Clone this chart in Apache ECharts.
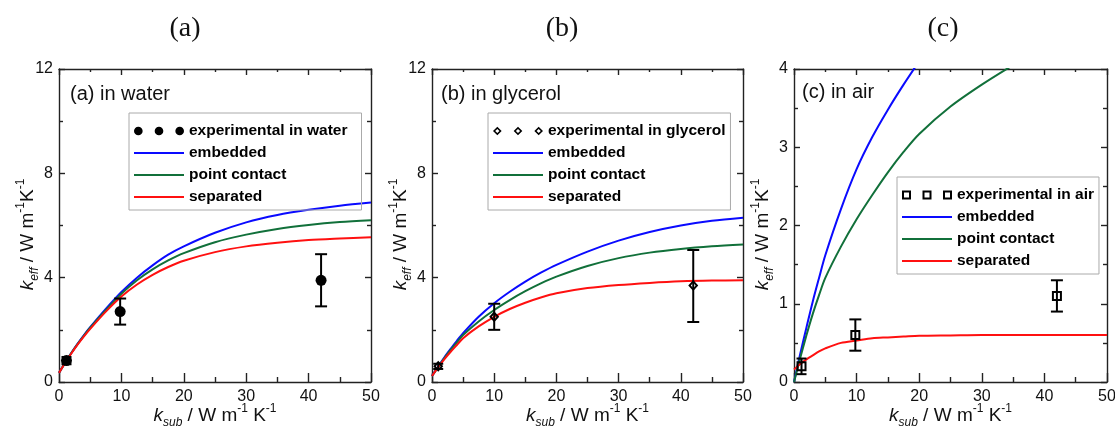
<!DOCTYPE html>
<html><head><meta charset="utf-8">
<script src="https://cdn.jsdelivr.net/npm/echarts@6/dist/echarts.min.js"></script>
<style>html,body{margin:0;padding:0;background:#fff}#c{width:1115px;height:427px}</style>
</head><body><div id="c"></div>
<script>
// ---------- data ----------
const kSub = [0,1,2,3,4,5,7.5,10,12.5,15,17.5,20,25,30,35,40,45,50];
const xTicks = [0,10,20,30,40,50];

const waterEmbedded  = [0.35,0.75,1.12,1.47,1.80,2.10,2.80,3.45,4.00,4.47,4.88,5.20,5.72,6.12,6.40,6.60,6.76,6.88];
const waterPoint     = [0.35,0.75,1.12,1.46,1.78,2.08,2.75,3.38,3.90,4.32,4.66,4.94,5.36,5.65,5.87,6.02,6.13,6.20];
const waterSeparated = [0.35,0.74,1.10,1.44,1.75,2.04,2.70,3.28,3.74,4.11,4.41,4.65,4.98,5.20,5.34,5.44,5.50,5.55];

const glyEmbedded  = [0.23,0.60,0.95,1.27,1.58,1.87,2.50,3.02,3.46,3.85,4.19,4.49,5.00,5.42,5.75,6.00,6.18,6.30];
const glyPoint     = [0.23,0.58,0.92,1.23,1.52,1.80,2.32,2.76,3.14,3.48,3.78,4.04,4.45,4.75,4.96,5.10,5.20,5.27];
const glySeparated = [0.23,0.57,0.88,1.16,1.42,1.68,2.13,2.50,2.80,3.04,3.24,3.40,3.60,3.72,3.80,3.86,3.89,3.90];

const airEmbedded  = [0,0.36,0.70,1.03,1.33,1.62,2.21,2.72,3.13,3.48,3.80,4.10];
const airPoint     = [0,0.31,0.60,0.87,1.11,1.33,1.73,2.08,2.39,2.68,2.94,3.17,3.52,3.80,4.05];
const airSeparated = [0.16,0.23,0.29,0.34,0.39,0.43,0.50,0.53,0.56,0.57,0.58,0.59,0.595,0.60,0.60,0.60,0.60,0.60];

const waterExpX  = [1.2, 9.8, 42];
const waterExpY  = [0.82, 2.7, 3.9];
const waterExpLo = [0.68, 2.2, 2.9];
const waterExpHi = [0.96, 3.2, 4.9];

const glyExpX  = [1.0, 10, 42];
const glyExpY  = [0.6, 2.5, 3.7];
const glyExpLo = [0.5, 2.0, 2.3];
const glyExpHi = [0.7, 3.0, 5.06];

const airExpX  = [1.2, 9.8, 42];
const airExpY  = [0.2, 0.6, 1.1];
const airExpLo = [0.1, 0.4, 0.9];
const airExpHi = [0.3, 0.8, 1.3];

const panelTitles = ['(a)', '(b)', '(c)'];
const panelLabels = ['(a) in water', '(b) in glycerol', '(c) in air'];
const expNames = ['experimental in water', 'experimental in glycerol', 'experimental in air'];
const modelNames = ['embedded', 'point contact', 'separated'];

// ---------- style ----------
const F = 'Liberation Sans, Arial, sans-serif';
const AX = '#222';
const COLORS = ['#0a0aff', '#11703a', '#ff1010'];
const grids = [
  {left: 59, top: 69, width: 312, height: 313, outerBoundsMode: 'none', containLabel: false},
  {left: 432, top: 69, width: 311, height: 313, outerBoundsMode: 'none', containLabel: false},
  {left: 794, top: 69, width: 313, height: 313, outerBoundsMode: 'none', containLabel: false}
];
const yCfg = [{max: 12, interval: 4}, {max: 12, interval: 4}, {max: 4, interval: 1}];

const rich = {
  n: {fontSize: 19, fontFamily: F, color: '#111', lineHeight: 26},
  i: {fontSize: 19, fontFamily: F, fontStyle: 'italic', color: '#111', lineHeight: 26},
  sub: {fontSize: 12, fontFamily: F, fontStyle: 'italic', color: '#111', lineHeight: 12, verticalAlign: 'bottom'},
  sup: {fontSize: 12, fontFamily: F, color: '#111', lineHeight: 12, verticalAlign: 'top'}
};
const xName = '{i|k}{sub|sub}{n| / W m}{sup|-1}{n| K}{sup|-1}';
const yName = '{i|k}{sub|eff}{n| / W m}{sup|-1}{n|K}{sup|-1}';

const lineIcon = 'path://M0,0H50V2.2H0Z';
const circleTriple = 'path://M0,4.5a4.5,4.5 0 1,0 9,0a4.5,4.5 0 1,0 -9,0ZM21.5,4.5a4.5,4.5 0 1,0 9,0a4.5,4.5 0 1,0 -9,0ZM43,4.5a4.5,4.5 0 1,0 9,0a4.5,4.5 0 1,0 -9,0Z';
const diamondRing = 'path://M5,0L10,5L5,10L0,5ZM5,2.6L2.6,5L5,7.4L7.4,5Z';
const diamondTriple = 'path://M4.5,0L9,4.5L4.5,9L0,4.5ZM4.5,2.3L2.3,4.5L4.5,6.7L6.7,4.5Z M26,0L30.5,4.5L26,9L21.5,4.5ZM26,2.3L23.8,4.5L26,6.7L28.2,4.5Z M47.5,0L52,4.5L47.5,9L43,4.5ZM47.5,2.3L45.3,4.5L47.5,6.7L49.7,4.5Z';
const squareRing = 'path://M0,0H10V10H0ZM2,2V8H8V2Z';
const squareTriple = 'path://M0,0H9V9H0ZM2,2V7H7V2Z M20.5,0H29.5V9H20.5ZM22.5,2V7H27.5V2Z M41,0H50V9H41ZM43,2V7H48V2Z';

const lineSt = {color: AX, width: 1.4};
const xAxes = [], yAxes = [];
grids.forEach((g, gi) => {
  const xb = {gridIndex: gi, type: 'value', min: 0, max: 50, interval: 10, splitLine: {show: false},
    axisLine: {show: true, onZero: false, lineStyle: lineSt}};
  xAxes.push(Object.assign({}, xb, {position: 'bottom',
    axisTick: {inside: true, length: 9, lineStyle: lineSt},
    minorTick: {show: true, splitNumber: 2, length: 5, lineStyle: lineSt},
    axisLabel: {margin: 7, color: '#111', fontSize: 16, fontFamily: F,
      formatter: v => xTicks.includes(v) ? String(v) : ''},
    name: xName, nameLocation: 'middle', nameGap: 21, nameMoveOverlap: false, nameTextStyle: {rich: rich}}));
  xAxes.push(Object.assign({}, xb, {position: 'top',
    axisTick: {inside: true, length: 6, lineStyle: lineSt},
    minorTick: {show: true, splitNumber: 2, length: 3, lineStyle: lineSt},
    axisLabel: {show: false}}));
  const yb = {gridIndex: gi, type: 'value', min: 0, max: yCfg[gi].max, interval: yCfg[gi].interval,
    splitLine: {show: false}, axisLine: {show: true, onZero: false, lineStyle: lineSt}};
  yAxes.push(Object.assign({}, yb, {position: 'left',
    axisTick: {inside: true, length: 6, lineStyle: lineSt},
    minorTick: {show: true, splitNumber: 2, length: 4, lineStyle: lineSt},
    axisLabel: {margin: 6, color: '#111', fontSize: 16, fontFamily: F},
    name: yName, nameLocation: 'middle', nameGap: 18, nameRotate: 90, nameMoveOverlap: false,
    nameTextStyle: {rich: rich, padding: [0, 18, 0, 0]}}));
  yAxes.push(Object.assign({}, yb, {position: 'right',
    axisTick: {inside: true, length: 6, lineStyle: lineSt},
    minorTick: {show: true, splitNumber: 2, length: 4, lineStyle: lineSt},
    axisLabel: {show: false}}));
});

const modelSets = [
  [waterEmbedded, waterPoint, waterSeparated],
  [glyEmbedded, glyPoint, glySeparated],
  [airEmbedded, airPoint, airSeparated]
];
const expSets = [
  [waterExpX, waterExpY, waterExpLo, waterExpHi],
  [glyExpX, glyExpY, glyExpLo, glyExpHi],
  [airExpX, airExpY, airExpLo, airExpHi]
];
const expSymbols = [
  {symbol: 'circle', size: 11},
  {symbol: diamondRing, size: [10, 11]},
  {symbol: squareRing, size: 10}
];
const legendIcons = [circleTriple, diamondTriple, squareTriple];

const series = [];
grids.forEach((g, gi) => {
  const ax = gi * 2;
  modelSets[gi].forEach((arr, mi) => {
    series.push({type: 'line', name: modelNames[mi], xAxisIndex: ax, yAxisIndex: ax,
      data: arr.map((v, i) => [kSub[i], v]), smooth: 0.3,
      symbol: 'none', clip: true, z: 3 + mi,
      lineStyle: {color: COLORS[mi], width: 2}, itemStyle: {color: COLORS[mi]}});
  });
  const [ex, ey, elo, ehi] = expSets[gi];
  series.push({type: 'custom', name: 'err' + gi, xAxisIndex: ax, yAxisIndex: ax, z: 8,
    data: ex.map((v, i) => [v, elo[i], ehi[i]]), encode: {x: 0, y: [1, 2]},
    renderItem: (params, api) => {
      const x = api.value(0);
      const a = api.coord([x, api.value(1)]);
      const b = api.coord([x, api.value(2)]);
      const hw = params.dataIndex === 0 ? 5 : 6;
      const st = {stroke: '#000', lineWidth: 2};
      return {type: 'group', children: [
        {type: 'line', shape: {x1: a[0], y1: a[1], x2: b[0], y2: b[1]}, style: st},
        {type: 'line', shape: {x1: a[0] - hw, y1: a[1], x2: a[0] + hw, y2: a[1]}, style: st},
        {type: 'line', shape: {x1: b[0] - hw, y1: b[1], x2: b[0] + hw, y2: b[1]}, style: st}
      ]};
    }});
  series.push({type: 'scatter', name: expNames[gi], xAxisIndex: ax, yAxisIndex: ax, z: 9,
    symbol: expSymbols[gi].symbol, symbolSize: expSymbols[gi].size,
    itemStyle: {color: '#000', opacity: 1},
    data: ex.map((v, i) => [v, ey[i]])});
});

const legendPos = [{left: 129, top: 113, pr: 14}, {left: 488, top: 113, pr: 5}, {left: 897, top: 177, pr: 5}];
const legends = legendPos.map((p, gi) => ({
  orient: 'vertical', left: p.left, top: p.top, itemWidth: 50, itemHeight: 9, itemGap: 6,
  padding: [10, p.pr, 5, 5], borderColor: '#aaa', borderWidth: 1, selectedMode: false,
  textStyle: {fontSize: 15.5, fontWeight: 'bold', fontFamily: F, color: '#000', lineHeight: 14},
  data: [{name: expNames[gi], icon: legendIcons[gi]}].concat(modelNames.map(n => ({name: n, icon: lineIcon})))
}));

const titlePos = [185, 562, 943];
const labelPos = [{left: 70, top: 84}, {left: 441, top: 84}, {left: 802, top: 82}];
const titles = [];
panelTitles.forEach((t, i) => titles.push({text: t, left: titlePos[i], top: 15, textAlign: 'center', padding: 0,
  textStyle: {fontSize: 28, fontWeight: 'normal', fontFamily: 'Liberation Serif, Times New Roman, serif', color: '#111'}}));
panelLabels.forEach((t, i) => titles.push({text: t, left: labelPos[i].left, top: labelPos[i].top, padding: 0,
  textStyle: {fontSize: 20, fontWeight: 'normal', fontFamily: F, color: '#111'}}));

const chart = echarts.init(document.getElementById('c'), null, {renderer: 'canvas'});
chart.setOption({
  animation: false, backgroundColor: '#fff',
  title: titles, legend: legends, grid: grids, xAxis: xAxes, yAxis: yAxes, series: series
});
</script></body></html>
